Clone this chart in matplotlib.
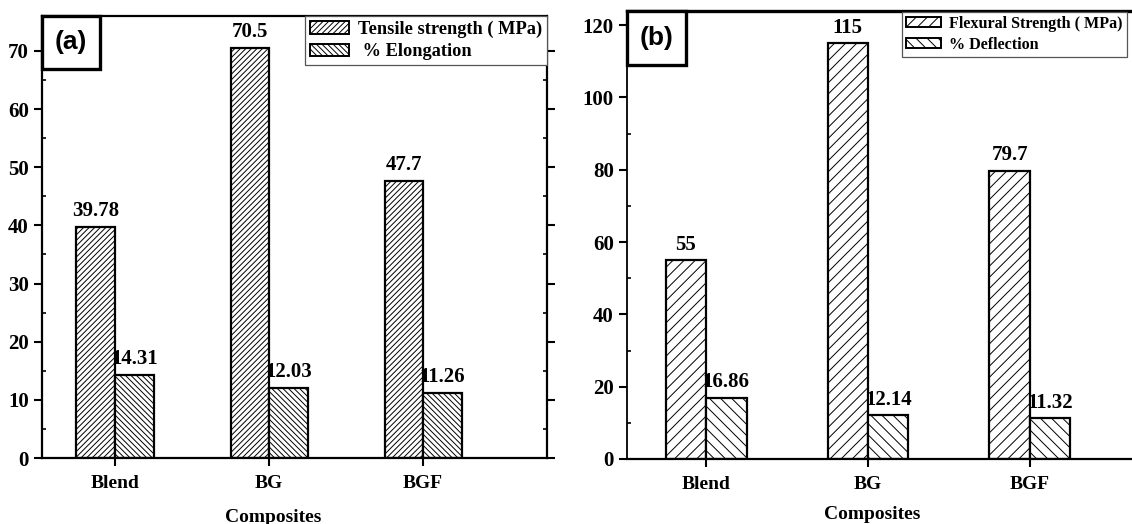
import matplotlib
matplotlib.use("Agg")
import matplotlib.pyplot as plt
from matplotlib.patches import Rectangle
from matplotlib.ticker import MultipleLocator
import numpy as np

plt.rcParams['font.family'] = 'Liberation Serif'
plt.rcParams['font.weight'] = 'bold'
plt.rcParams['hatch.linewidth'] = 0.7

composites = ["Blend", "BG", "BGF"]
tensile = [39.78, 70.5, 47.7]
elongation = [14.31, 12.03, 11.26]
flexural = [55, 115, 79.7]
deflection = [16.86, 12.14, 11.32]

W, H = 1132, 524
fig = plt.figure(figsize=(W / 100, H / 100), dpi=100)

def px_axes(l, t, r, b):
    return fig.add_axes([l / W, 1 - b / H, (r - l) / W, (b - t) / H])

x = np.arange(1, 4)
bw = 0.25

def panel(ax, s1, s2, names, hatches, xlim, ylim, major, minor, tag, box_px, leg_fs, leg_hl, leg_hh, leg_anchor):
    b1 = ax.bar(x - bw / 2, s1, bw, color='white', edgecolor='black', hatch=hatches[0], linewidth=1.6, label=names[0])
    b2 = ax.bar(x + bw / 2, s2, bw, color='white', edgecolor='black', hatch=hatches[1], linewidth=1.6, label=names[1])
    for bars, vals in ((b1, s1), (b2, s2)):
        for r, v in zip(bars, vals):
            ax.annotate(f"{v:g}", (r.get_x() + r.get_width() / 2, v), xytext=(0, 4),
                        textcoords='offset points', ha='center', va='bottom', fontsize=15, fontweight='bold')
    ax.set_xlim(*xlim)
    ax.set_ylim(*ylim)
    ax.set_xticks(x)
    ax.set_xticklabels(composites)
    ax.yaxis.set_major_locator(MultipleLocator(major))
    ax.yaxis.set_minor_locator(MultipleLocator(minor))
    ax.tick_params(axis='y', which='major', labelsize=15, width=1.5, length=6, direction='out')
    ax.tick_params(axis='x', which='major', labelsize=14, width=1.5, length=6, direction='out', pad=6)
    ax.tick_params(axis='y', which='minor', width=1.2, length=3, direction='in')
    for s in ax.spines.values():
        s.set_linewidth(1.6)
    leg = ax.legend(loc='upper right', bbox_to_anchor=leg_anchor, bbox_transform=fig.transFigure,
                    borderaxespad=0, fontsize=leg_fs, fancybox=False,
                    edgecolor='#555555', framealpha=1, handlelength=leg_hl, handleheight=leg_hh,
                    borderpad=0.25, labelspacing=0.3, handletextpad=0.5)
    leg.get_frame().set_linewidth(0.9)
    for h in leg.legend_handles:
        h.set_linewidth(1.4)
    # label box in top-left corner
    l, t, r, b = box_px
    bb = ax.get_position()
    ax0 = bb.x0 * W
    ay1 = (1 - bb.y1) * H
    fx0 = (l - ax0) / (bb.width * W)
    fx1 = (r - ax0) / (bb.width * W)
    fy1 = 1 - (t - ay1) / (bb.height * H)
    fy0 = 1 - (b - ay1) / (bb.height * H)
    ax.add_patch(Rectangle((fx0, fy0), fx1 - fx0, fy1 - fy0, transform=ax.transAxes,
                           facecolor='white', edgecolor='black', linewidth=2.4, zorder=5, clip_on=False))
    ax.text((fx0 + fx1) / 2, (fy0 + fy1) / 2, tag, transform=ax.transAxes, ha='center', va='center',
            fontsize=19, fontweight='bold', family='Liberation Sans', zorder=6)

# panel (a)
ax1 = px_axes(42, 16, 547, 458)
panel(ax1, tensile, elongation, ["Tensile strength ( MPa)", " % Elongation"], ['//////', '\\\\\\\\\\\\'],
      (0.526, 3.805), (0, 76.0), 10, 5, "(a)", (42, 16, 100, 69), 13.2, 2.15, 0.65,
      (547 / W, 1 - 16 / H))
ax1.tick_params(axis='y', which='both', right=True)
ax1.set_xlabel("Composites", fontsize=14, fontweight='bold')
ax1.xaxis.set_label_coords((273 - 42) / 505, -0.115)

# panel (b)
ax2 = px_axes(627, 11, 1132, 459)
panel(ax2, flexural, deflection, ["Flexural Strength ( MPa)", "% Deflection"], ['///', '\\\\\\'],
      (0.512, 3.63), (0, 123.9), 20, 10, "(b)", (627, 11, 686, 65), 11.6, 2.2, 0.6,
      (1127 / W, 1 - 12 / H))
ax2.spines['right'].set_visible(False)
ax2.spines['left'].set_linewidth(1.3)
ax2.spines['top'].set_linewidth(2.4)
ax2.set_xlabel("Composites", fontsize=14, fontweight='bold')
ax2.xaxis.set_label_coords((872 - 627) / 505, -0.105)

fig.savefig("out.png", dpi=100)
